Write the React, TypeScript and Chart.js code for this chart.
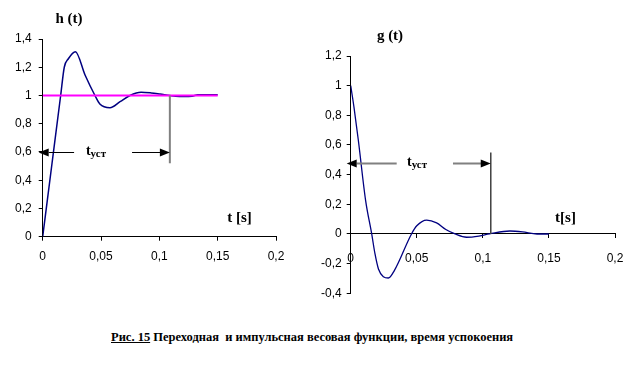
import React, { useEffect, useRef } from "react";
import { Chart, registerables } from "chart.js";
Chart.register(...registerables);

// ---------- data ----------
const xTickValues = [0, 0.05, 0.1, 0.15, 0.2];

const hTime = [0, 0.008, 0.0154, 0.0185, 0.022, 0.028, 0.0363, 0.0448, 0.049, 0.0577, 0.0663, 0.0748, 0.0843, 0.093, 0.1005, 0.109, 0.114, 0.121, 0.128, 0.133, 0.15];
const hValue = [0, 0.52, 1.0, 1.2, 1.26, 1.31, 1.145, 1.0, 0.94, 0.914, 0.956, 1.0, 1.023, 1.018, 1.01, 1.0, 0.995, 0.993, 0.995, 1.005, 1.005];

const hSteadyTime = [0, 0.15];
const hSteadyValue = [1, 1];

const gTime = [0, 0.0025, 0.0058, 0.0113, 0.0159, 0.0184, 0.021, 0.0247, 0.0285, 0.033, 0.046, 0.05, 0.0575, 0.065, 0.072, 0.079, 0.0877, 0.097, 0.105, 0.1205, 0.13, 0.141, 0.15];
const gValue = [1.0, 0.854, 0.63, 0.225, 0, -0.135, -0.236, -0.288, -0.297, -0.247, 0, 0.055, 0.094, 0.075, 0.03, 0, -0.022, -0.014, 0, 0.02, 0.014, 0, 0];

// settling time markers: [time, marker top value, marker bottom value, arrow level]
const hSettle = [0.109, 1.0, 0.52, 0.6];
const gSettle = [0.106, 0.55, 0, 0.48];

const settleLabelMain = "t";
const settleLabelSub = "уст";
const caption1 = "Рис. 15";
const caption2 = " Переходная  и импульсная весовая функции, время успокоения";

const fmt = (v: number) => String(Math.round(v * 100) / 100).replace(".", ",");
const pts = (xs: number[], ys: number[]) => xs.map((x, i) => ({ x, y: ys[i] }));

type Ann = {
  settle: number[];
  lineColor: string;
  lineWidth: number;
  arrowColor: string;
  arrowWidth: number;
  gapFrom: number;
  gapTo: number;
  textAt: number;
};

function annotationPlugin(a: Ann) {
  return {
    id: "settleAnn",
    afterDatasetsDraw(chart: any) {
      const ctx = chart.ctx;
      const xs = chart.scales.x;
      const ys = chart.scales.y;
      const [tS, vTop, vBot, vArrow] = a.settle;
      const px = xs.getPixelForValue(tS);
      ctx.save();
      // vertical marker
      ctx.strokeStyle = a.lineColor;
      ctx.lineWidth = a.lineWidth;
      ctx.beginPath();
      ctx.moveTo(px, ys.getPixelForValue(vTop));
      ctx.lineTo(px, ys.getPixelForValue(vBot));
      ctx.stroke();
      // arrow lines
      const ay = Math.round(ys.getPixelForValue(vArrow)) + 0.5;
      const x0 = xs.getPixelForValue(0);
      const g1 = xs.getPixelForValue(a.gapFrom);
      const g2 = xs.getPixelForValue(a.gapTo);
      ctx.strokeStyle = a.arrowColor;
      ctx.lineWidth = a.arrowWidth;
      ctx.beginPath();
      ctx.moveTo(x0 + 6, ay);
      ctx.lineTo(g1, ay);
      ctx.moveTo(g2, ay);
      ctx.lineTo(px - 6, ay);
      ctx.stroke();
      // arrowheads
      ctx.fillStyle = "#000";
      ctx.beginPath();
      ctx.moveTo(x0 - 4, ay);
      ctx.lineTo(x0 + 6, ay - 4);
      ctx.lineTo(x0 + 6, ay + 4);
      ctx.closePath();
      ctx.fill();
      ctx.beginPath();
      ctx.moveTo(px, ay);
      ctx.lineTo(px - 10, ay - 4);
      ctx.lineTo(px - 10, ay + 4);
      ctx.closePath();
      ctx.fill();
      // label
      ctx.fillStyle = "#000";
      ctx.textBaseline = "alphabetic";
      const mainFont = "bold 14px 'Liberation Serif', 'Times New Roman', serif";
      const subFont = "bold 11px 'Liberation Serif', 'Times New Roman', serif";
      ctx.font = mainFont;
      const w1 = ctx.measureText(settleLabelMain).width;
      ctx.font = subFont;
      const w2 = ctx.measureText(settleLabelSub).width;
      const cx = xs.getPixelForValue(a.textAt);
      const left = cx - (w1 + w2) / 2;
      ctx.font = mainFont;
      ctx.textAlign = "left";
      ctx.fillText(settleLabelMain, left, ay + 2);
      ctx.font = subFont;
      ctx.fillText(settleLabelSub, left + w1, ay + 4);
      ctx.restore();
    },
  };
}

function axisCommon(tickPad: number) {
  return {
    ticks: {
      color: "#000",
      padding: tickPad,
      font: { family: "'Liberation Sans', Arial, sans-serif", size: 12 },
    },
    grid: { drawOnChartArea: false, tickLength: 4, color: "#000", lineWidth: 1 },
    border: { display: true, color: "#000", width: 1 },
  };
}

function PanelChart(props: {
  left: number; top: number; width: number; height: number;
  datasets: any[]; yMin: number; yMax: number;
  yAxisWidth: number; xAxisHeight: number; pad: any;
  xPos: any; xTickPad: number; yTickPad: number; ann: Ann;
}) {
  const ref = useRef<HTMLCanvasElement>(null);
  useEffect(() => {
    if (!ref.current) return;
    const xc = axisCommon(props.xTickPad);
    const yc = axisCommon(props.yTickPad);
    const chart = new Chart(ref.current, {
      type: "line",
      data: { datasets: props.datasets },
      options: {
        animation: false,
        responsive: false,
        devicePixelRatio: 1,
        layout: { padding: props.pad },
        plugins: { legend: { display: false }, tooltip: { enabled: false } },
        elements: { point: { radius: 0 } },
        scales: {
          x: {
            type: "linear",
            position: props.xPos,
            min: 0,
            max: 0.2,
            afterBuildTicks: (s: any) => { s.ticks = xTickValues.map((v) => ({ value: v })); },
            afterFit: (s: any) => { s.height = props.xAxisHeight; },
            ...xc,
            ticks: { ...xc.ticks, callback: (v: any) => fmt(Number(v)), maxRotation: 0, autoSkip: false },
          },
          y: {
            type: "linear",
            min: props.yMin,
            max: props.yMax,
            afterFit: (s: any) => { s.width = props.yAxisWidth; },
            ...yc,
            ticks: { ...yc.ticks, stepSize: 0.2, callback: (v: any) => fmt(Number(v)) },
          },
        },
      } as any,
      plugins: [annotationPlugin(props.ann)],
    });
    return () => chart.destroy();
  }, []);
  return (
    <canvas
      ref={ref}
      width={props.width}
      height={props.height}
      style={{ position: "absolute", left: props.left, top: props.top, width: props.width, height: props.height }}
    />
  );
}

const labelStyle = (cx: number, cy: number): React.CSSProperties => ({
  position: "absolute",
  left: cx,
  top: cy,
  transform: "translate(-50%, -50%)",
  font: "bold 15px 'Liberation Serif', 'Times New Roman', serif",
  color: "#000",
  whiteSpace: "nowrap",
  lineHeight: 1,
});

export default function App() {
  const hDatasets = [
    {
      data: pts(hSteadyTime, hSteadyValue),
      borderColor: "#ff00ff",
      borderWidth: 2,
      pointRadius: 0,
      fill: false,
      order: 0,
    },
    {
      data: pts(hTime, hValue),
      borderColor: "#000080",
      borderWidth: 1.5,
      pointRadius: 0,
      fill: false,
      cubicInterpolationMode: "monotone",
      order: 1,
    },
  ];
  const gDatasets = [
    {
      data: pts(gTime, gValue),
      borderColor: "#000080",
      borderWidth: 1.3,
      pointRadius: 0,
      fill: false,
      cubicInterpolationMode: "monotone",
    },
  ];
  return (
    <div style={{ position: "fixed", left: 0, top: 0, width: 644, height: 373, background: "#fff", overflow: "hidden" }}>
      <PanelChart
        left={0} top={0} width={300} height={280}
        datasets={hDatasets} yMin={0} yMax={1.4}
        yAxisWidth={42.7} xAxisHeight={43.3}
        pad={{ top: 39, right: 24, left: 0, bottom: 0 }}
        xPos="bottom" xTickPad={9} yTickPad={7}
        ann={{ settle: hSettle, lineColor: "#808080", lineWidth: 2, arrowColor: "#000", arrowWidth: 1, gapFrom: 0.0269, gapTo: 0.0766, textAt: 0.0457 }}
      />
      <PanelChart
        left={300} top={20} width={340} height={300}
        datasets={gDatasets} yMin={-0.4} yMax={1.2}
        yAxisWidth={50.7} xAxisHeight={0}
        pad={{ top: 36, right: 25, left: 0, bottom: 26.7 }}
        xPos={{ y: 0 }} xTickPad={14} yTickPad={5}
        ann={{ settle: gSettle, lineColor: "#404040", lineWidth: 1.5, arrowColor: "#808080", arrowWidth: 2, gapFrom: 0.0348, gapTo: 0.0774, textAt: 0.0502 }}
      />
      <div style={labelStyle(69, 18)}>h (t)</div>
      <div style={labelStyle(239.5, 217)}>t [s]</div>
      <div style={labelStyle(390, 35)}>g (t)</div>
      <div style={labelStyle(565.5, 217)}>t[s]</div>
      <div
        style={{
          position: "absolute",
          left: 111,
          top: 330,
          font: "bold 12.5px 'Liberation Serif', 'Times New Roman', serif",
          color: "#000",
          whiteSpace: "pre",
          lineHeight: "14px",
        }}
      >
        <span style={{ textDecoration: "underline" }}>{caption1}</span>
        {caption2}
      </div>
    </div>
  );
}
